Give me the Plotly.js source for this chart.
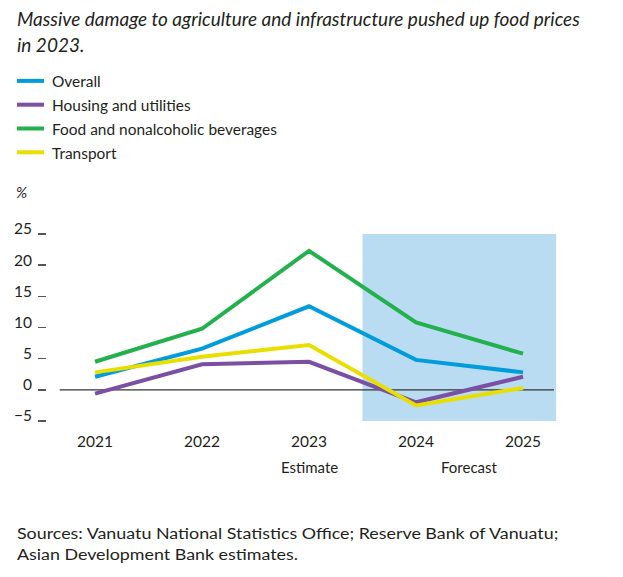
<!DOCTYPE html>
<html>
<head>
<meta charset="utf-8">
<script src="https://cdn.plot.ly/plotly-3.0.1.min.js"></script>
<style>html,body{margin:0;padding:0;background:#fff;}#chart{width:623px;height:577px;}</style>
</head>
<body>
<div id="chart"></div>
<script>
const years = [2021, 2022, 2023, 2024, 2025];
const yearLabels = ["2021", "2022", "2023", "2024", "2025"];
const overall = [2.1, 6.6, 13.4, 4.8, 2.8];
const housing = [-0.6, 4.1, 4.5, -2.0, 2.1];
const food = [4.5, 9.8, 22.3, 10.8, 5.8];
const transport = [2.8, 5.3, 7.2, -2.5, 0.3];
const seriesNames = ["Overall", "Housing and utilities", "Food and nonalcoholic beverages", "Transport"];
const yTicks = [-5, 0, 5, 10, 15, 20, 25];
const yTickLabels = ["\u22125", "0", "5", "10", "15", "20", "25"];
const titleText = "Massive damage to agriculture and infrastructure pushed up food prices<br>in 2023.";
const sourceText = "Sources: Vanuatu National Statistics Office; Reserve Bank of Vanuatu;<br>Asian Development Bank estimates.";

const colors = ["#009cdc", "#7b4fa1", "#22b14c", "#e8df00"];
const FONT = "Lato, 'Liberation Sans', Arial, sans-serif";

// plot area in pixels: left 47, right 572, top 234, bottom 421
const PL = 47, PW = 525, PB = 421, PH = 187;
const px = v => (v - PL) / PW;
const py = v => (PB - v) / PH;

const seriesData = [overall, housing, food, transport];
const traces = seriesData.map((d, i) => ({
  type: "scatter", mode: "lines", x: years, y: d, name: seriesNames[i],
  line: {color: colors[i], width: 4}, hoverinfo: "skip"
}));

const layout = {
  width: 623, height: 577,
  margin: {l: 47, r: 51, t: 234, b: 156, autoexpand: false},
  paper_bgcolor: "#fff", plot_bgcolor: "rgba(0,0,0,0)",
  showlegend: true,
  legend: {
    xref: "container", yref: "container", x: 12/623, xanchor: "left",
    y: 1 - 64/577, yanchor: "top",
    font: {family: FONT, size: 16, color: "#231f20"},
    bgcolor: "rgba(0,0,0,0)", traceorder: "normal"
  },
  xaxis: {
    range: [2020.551, 2025.458], tickvals: years, ticktext: yearLabels,
    showgrid: false, zeroline: false, showline: false, ticks: "",
    ticklabelstandoff: 9,
    tickfont: {family: FONT, size: 15.5, color: "#231f20"}, fixedrange: true
  },
  yaxis: {
    range: [-5, 25], tickvals: yTicks, ticktext: yTickLabels,
    showgrid: false, zeroline: false, showline: false,
    ticks: "outside", ticklen: 8, tickwidth: 1.5, tickcolor: "#555",
    ticklabelshift: -5, ticklabelstandoff: 3,
    tickfont: {family: FONT, size: 15.5, color: "#231f20"}, fixedrange: true
  },
  yaxis2: {
    overlaying: "y", side: "right", range: [-5, 25], tickvals: yTicks,
    showticklabels: false, showgrid: false, zeroline: false, showline: false,
    ticks: "outside", ticklen: 7, tickwidth: 1.5, tickcolor: "#555", fixedrange: true
  },
  shapes: [
    {type: "rect", xref: "x", yref: "y", x0: 2023.5, x1: 2025.31, y0: -5, y1: 25,
     fillcolor: "#badcf3", line: {width: 0}, layer: "below"},
    {type: "line", xref: "x", yref: "y", x0: 2020.67, x1: 2025.29, y0: 0, y1: 0,
     line: {color: "#333", width: 1.3}, layer: "below"}
  ],
  annotations: [
    {text: titleText, xref: "paper", yref: "paper", x: px(15), y: py(4),
     xanchor: "left", yanchor: "top", align: "left", showarrow: false,
     font: {family: FONT, size: 20, color: "#231f20", style: "italic"}},
    {text: "%", xref: "paper", yref: "paper", x: px(14), y: py(192),
     xanchor: "left", yanchor: "middle", showarrow: false,
     font: {family: FONT, size: 15, color: "#231f20", style: "italic"}},
    {text: "Estimate", xref: "x", yref: "paper", x: 2023, y: py(467),
     xanchor: "center", yanchor: "middle", showarrow: false,
     font: {family: FONT, size: 15, color: "#231f20"}},
    {text: "Forecast", xref: "x", yref: "paper", x: 2024.5, y: py(467),
     xanchor: "center", yanchor: "middle", showarrow: false,
     font: {family: FONT, size: 15, color: "#231f20"}},
    {text: sourceText, xref: "paper", yref: "paper", x: px(15), y: py(543),
     xanchor: "left", yanchor: "middle", align: "left", showarrow: false,
     font: {family: FONT, size: 16, color: "#231f20"}}
  ]
};

// target first-line widths (px) of the condensed reference typeface
const TITLE_W = 563, LEGEND_W = 225, SOURCE_W = 542;

function lineWidth(el) {
  const lines = el.querySelectorAll("tspan.line");
  const t = lines.length ? lines[0] : el;
  return t.getBBox().width;
}
function hscale(el, s) {
  const x = parseFloat(el.getAttribute("x")) || 0;
  const prev = el.getAttribute("transform") || "";
  el.setAttribute("transform", prev + " translate(" + (x * (1 - s)) + ",0) scale(" + s + ",1)");
}

Plotly.newPlot("chart", traces, layout, {staticPlot: true, displayModeBar: false}).then(gd => {
  gd.querySelectorAll(".annotation-text").forEach(el => {
    const t = el.textContent;
    if (t.indexOf("Massive") === 0) hscale(el, TITLE_W / lineWidth(el));
    else if (t.indexOf("Sources") === 0) hscale(el, SOURCE_W / lineWidth(el));
  });
  gd.querySelectorAll(".legend .js-line").forEach(p => p.setAttribute("d", "M5,0h27"));
  const lt = Array.from(gd.querySelectorAll(".legend .legendtext"));
  const ref = lt.find(el => el.textContent.indexOf("Food") === 0);
  if (ref) {
    const s = LEGEND_W / ref.getBBox().width;
    lt.forEach(el => hscale(el, s));
  }
});
</script>
</body>
</html>
